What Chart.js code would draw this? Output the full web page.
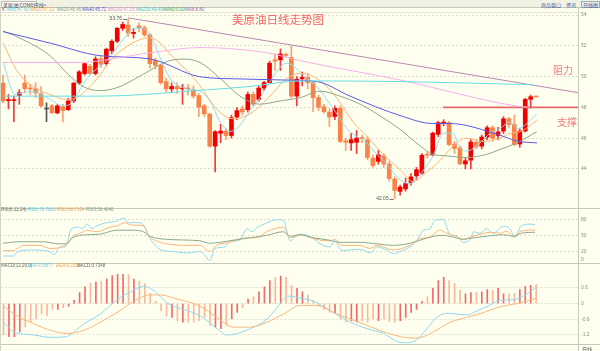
<!DOCTYPE html>
<html><head><meta charset="utf-8"><title>美原油日线走势图</title>
<script src="https://cdn.jsdelivr.net/npm/chart.js@4.4.1/dist/chart.umd.min.js"></script>
<style>
html,body{margin:0;padding:0;background:#fffff0;}
#wrap{position:relative;width:600px;height:351px;overflow:hidden;background:#fffff0;font-family:"Liberation Sans","DejaVu Sans",sans-serif;}
#wrap canvas{position:absolute;left:0;}
.t{position:absolute;white-space:nowrap;line-height:1;}
.cn{font-family:"Noto Sans CJK SC",sans-serif;}
.ln{position:absolute;background:#c9c9b9;}
.hd{font-size:4.5px;top:8px;}
</style></head><body>
<div id="wrap">
<div class="ln" style="left:0;top:0;width:600px;height:7px;background:#f1f1e4;"></div>
<div class="ln" style="left:0;top:7px;width:600px;height:1px;"></div>
<div class="ln" style="left:0;top:12px;width:578px;height:1px;background:#e4e4d6;"></div>
<div class="t cn" style="left:1px;top:1px;font-size:5px;color:#333;border:1px solid #bbb;border-bottom:none;background:#fff;padding:0 1px;">美原油(CONC)</div>
<div class="t cn" style="left:31px;top:1.5px;font-size:5px;color:#555;">&lt;日线&gt;</div>
<div class="t cn" style="left:541px;top:1.5px;font-size:5px;color:#3a5a9a;">商品盘口</div>
<div class="t cn" style="left:566px;top:1.5px;font-size:5px;color:#3a5a9a;">资讯</div>
<div class="t cn" style="left:581px;top:0.5px;font-size:5px;color:#3a5a9a;border:1px solid #9ab;padding:0 1px;">日线图</div>

<div class="t hd" style="left:2px;color:#666;">K</div>
<div class="t hd" style="left:7px;color:#5cc6e6;">MA5:47.60</div>
<div class="t hd" style="left:30px;color:#f0a050;">MA10:47.13</div>
<div class="t hd" style="left:57px;color:#7f977f;">MA20:46.45</div>
<div class="t hd" style="left:82px;color:#4a4ad2;">MA40:45.71</div>
<div class="t hd" style="left:108px;color:#e27fd2;">MA100:47.05</div>
<div class="t hd" style="left:136px;color:#3fbcc6;">MA230:49.40</div>
<div class="t hd" style="left:163px;color:#3c9c3c;">MA60:0.00</div>
<div class="t hd" style="left:185px;color:#a0609a;">MA8:8.80</div>

<canvas id="cMain" width="600" height="202" style="top:8px;width:600px;height:202px;"></canvas>
<canvas id="cRsi" width="600" height="62" style="top:205px;width:600px;height:62px;"></canvas>
<canvas id="cMacd" width="600" height="89" style="top:262px;width:600px;height:89px;"></canvas>

<div class="ln" style="left:0;top:208px;width:600px;height:1px;"></div>
<div class="ln" style="left:0;top:263px;width:600px;height:1px;"></div>
<div class="ln" style="left:0;top:344px;width:600px;height:1px;"></div>
<div class="ln" style="left:578px;top:8px;width:1px;height:343px;"></div>
<div class="ln" style="left:0;top:8px;width:1px;height:343px;background:#d4d4c4;"></div>

<div class="t" style="left:1px;top:208px;font-size:4.5px;color:#666;">RSI(6,12,24)</div>
<div class="t" style="left:28px;top:208px;font-size:4.5px;color:#5cc6e6;">RSI1:70.7610</div>
<div class="t" style="left:57px;top:208px;font-size:4.5px;color:#f0a050;">RSI2:60.7134</div>
<div class="t" style="left:86px;top:208px;font-size:4.5px;color:#7f977f;">RSI3:56.4046</div>
<div class="t" style="left:581px;top:256.5px;font-size:5px;color:#8c8c82;">0</div>

<div class="t" style="left:1px;top:264px;font-size:4.5px;color:#666;">MACD(12,26,9)</div>
<div class="t" style="left:28px;top:264px;font-size:4.5px;color:#5cc6e6;">DIFF:0.5877</div>
<div class="t" style="left:56px;top:264px;font-size:4.5px;color:#f0a050;">DEA:0.2303</div>
<div class="t" style="left:77px;top:264px;font-size:4.5px;color:#666;">MACD:0.7348</div>
<div class="t cn" style="left:582px;top:345.5px;font-size:5px;color:#555;">日线</div>

<div class="t cn" style="left:232px;top:14px;font-size:11.5px;color:#f46464;">美原油日线走势图</div>
<div class="t cn" style="left:553px;top:65px;font-size:10px;color:#f07c7c;">阻力</div>
<div class="t cn" style="left:557px;top:117px;font-size:10px;color:#f07c7c;">支撑</div>
</div>
<script>
// ---------- data (daily candles, index 1..99) ----------
const opens=[49.58,48.44,48.44,48.77,49.58,49.24,49.22,48.90,47.89,48.10,
47.64,48.05,47.85,48.42,49.58,50.20,50.67,50.20,51.15,50.84,
51.67,52.30,53.14,53.36,52.80,53.30,53.18,52.72,51.04,50.73,
49.68,49.20,49.36,49.20,49.24,49.15,48.77,48.10,47.58,45.48,
46.32,46.46,46.17,47.37,47.90,47.85,48.84,48.52,49.26,49.61,
51.09,51.09,51.45,51.25,48.73,49.87,49.95,49.61,48.63,48.04,
47.69,47.41,47.94,45.83,45.69,45.73,46.02,45.90,44.70,44.49,
44.85,44.32,43.34,42.54,42.70,43.10,43.55,43.73,44.95,44.91,
46.25,46.98,47.01,45.62,45.37,44.32,44.57,45.73,45.48,46.07,
46.68,46.17,46.46,47.26,46.88,45.62,46.46,48.52,48.72];
const closes=[48.42,48.48,48.48,48.95,49.22,49.20,48.95,48.10,47.89,47.64,
48.10,47.80,48.42,49.58,50.31,50.84,50.20,51.15,50.80,51.78,
52.30,53.14,53.39,52.83,52.88,53.18,52.72,50.84,50.73,49.61,
49.20,49.36,49.20,49.24,49.20,48.73,48.02,47.58,45.48,46.42,
46.46,46.17,47.33,47.79,47.70,48.84,48.21,49.26,49.61,50.87,
51.00,51.47,51.38,48.73,49.83,49.95,49.61,48.63,48.00,47.72,
47.37,47.94,45.79,45.73,45.90,46.00,45.98,44.74,44.22,44.91,
44.32,43.37,42.60,42.82,43.05,43.48,43.95,44.89,44.89,46.32,
47.01,47.03,45.58,45.33,44.32,44.53,45.75,45.44,46.07,46.68,
46.00,46.40,47.26,46.88,45.58,46.46,48.52,48.69,48.68];
const highs=[50.10,48.84,48.73,49.15,50.10,49.50,49.60,49.36,48.30,48.20,
48.20,48.20,48.60,49.62,50.40,50.90,50.80,51.30,51.30,51.85,
52.40,53.20,53.55,53.76,53.10,53.50,53.30,52.80,51.20,50.80,
49.90,49.60,49.60,49.50,49.50,49.40,48.90,48.20,47.60,46.50,
46.90,46.60,47.50,48.00,48.10,49.00,49.00,49.40,49.70,51.00,
51.50,51.80,51.55,52.00,50.00,50.30,50.20,49.70,48.80,48.20,
47.90,48.10,48.10,46.00,46.30,46.50,46.20,46.10,44.90,45.20,
45.00,44.50,43.50,42.95,43.40,43.70,44.10,45.00,45.10,46.40,
47.10,47.20,47.10,45.80,45.50,44.70,45.90,45.90,46.20,46.80,
46.80,46.70,47.40,47.35,47.50,46.60,48.60,48.80,48.72];
const lows=[48.30,47.90,47.07,48.20,48.95,48.85,48.65,48.00,47.07,47.60,
47.58,47.06,47.80,48.30,49.50,50.10,50.10,50.10,50.60,50.70,
51.50,52.20,53.00,52.60,52.50,52.90,52.60,50.55,50.50,49.50,
49.00,49.00,48.90,48.20,48.80,48.60,47.40,47.40,45.40,43.80,
45.70,45.90,46.00,47.20,47.50,47.70,48.10,48.40,49.10,49.55,
50.40,50.40,51.30,48.60,48.10,49.40,49.20,47.72,47.80,47.60,
46.74,47.20,45.70,45.20,45.20,45.00,45.70,44.60,44.10,44.30,
44.10,43.20,42.05,42.30,42.55,42.95,43.30,43.65,44.70,44.85,
46.10,46.80,45.50,45.00,44.30,44.00,44.00,45.30,45.30,45.90,
45.80,45.90,46.30,46.70,45.50,45.40,46.40,47.95,48.66];

// moving averages: [candle index, price]
const ma5=[[1,50.94],[3.21,48.84],[4.13,48.9],[6.52,49.05],[9.64,48.52],[12.03,48.1],[13.32,48.21],[15.16,49.15],[16.44,49.89],[18.28,50.52],[20.12,51.04],[21.96,51.88],[23.8,52.73],[24.9,53.14],[26.74,53.14],[28.03,52.73],[29.87,51.25],[31.7,49.89],[33.54,49.36],[35.38,49.15],[37.22,49.05],[39.06,48.42],[40.9,47.07],[42.74,46.44],[44.57,46.84],[46.41,47.79],[48.25,48.63],[50.09,49.68],[51.93,50.62],[53.16,50.87],[55.0,50.52],[56.84,49.89],[58.68,49.36],[60.51,48.52],[62.35,47.58],[64.19,46.63],[66.03,46.11],[67.87,45.69],[69.71,44.95],[71.55,44.32],[73.99,43.29],[75.83,43.06],[77.06,43.37],[78.9,44.22],[80.06,44.85],[81.9,46.32],[83.74,46.32],[84.66,45.58],[85.94,45.16],[87.17,45.27],[88.7,45.69],[90.54,46.32],[92.38,46.63],[94.22,47.05],[95.69,46.63],[97.29,46.95],[99.12,47.58]];
const ma10=[[1,52.2],[3.52,50.41],[6.52,49.36],[9.64,48.84],[12.71,48.52],[14.55,48.63],[17.0,49.36],[18.83,50.1],[20.67,51.04],[23.06,51.78],[26.19,52.41],[28.03,52.51],[29.87,52.2],[32.26,51.25],[34.77,50.41],[37.22,49.4],[40.29,47.89],[43.29,47.26],[45.13,47.37],[47.64,47.89],[50.64,48.95],[53.16,49.89],[55.61,50.21],[57.44,50.1],[60.51,49.36],[62.96,48.32],[65.35,47.05],[67.87,46.13],[70.87,44.95],[73.99,43.95],[76.38,43.17],[78.9,43.8],[81.35,44.55],[83.18,45.3],[86.25,46.0],[89.25,45.79],[92.38,46.0],[94.22,46.32],[96.06,46.42],[99.12,47.16]];
const ma20=[[1,52.95],[4.13,52.5],[9.64,51.36],[12.77,50.22],[15.71,49.36],[18.83,49.09],[21.96,49.28],[24.9,49.78],[28.03,50.41],[31.1,50.98],[34.09,51.14],[37.22,50.92],[40.9,49.89],[44.57,48.73],[48.25,48.21],[51.93,48.42],[55.61,48.63],[59.28,49.05],[62.96,48.73],[66.64,48.21],[70.31,47.45],[73.99,46.57],[77.67,45.5],[80.06,44.95],[82.58,44.85],[86.25,44.74],[89.93,44.95],[92.38,45.27],[95.45,45.69],[99.12,46.42]];
const ma40=[[1,52.93],[9.64,52.18],[18.83,51.36],[28.03,51.15],[37.22,49.99],[44.57,49.85],[52.48,49.78],[58.68,49.68],[64.8,48.73],[73.99,47.47],[80.06,46.95],[83.18,46.95],[92.38,46.19],[95.51,45.81],[99.18,45.69]];
const ma100=[[1,50.92],[14.6,50.92],[28.03,51.55],[37.22,51.89],[49.5,51.55],[55.61,51.04],[73.99,49.78],[95.51,48.08],[97.35,48.02]];
const ma230=[[1,48.73],[18.83,48.73],[37.22,49.11],[46.41,49.36],[55.61,49.72],[73.99,49.68],[98.45,49.47]];
const trendLine=[[24.0,53.82],[106.7,48.96]];
const supportLine=[[81.9,48.0],[106.7,48.0]];

// RSI lines: [candle index, value]
const rsi1=[[1,12.4],[2.9,12.4],[3.8,20.8],[6.6,23.6],[9.6,20.8],[10.4,15.2],[11.5,29.2],[12.4,29.2],[13.6,62.9],[14.9,65.7],[15.6,62.9],[16.5,71.3],[17.3,62.9],[18.3,68.5],[20.1,74.1],[21.9,76.9],[23.2,82.5],[24.0,74.1],[25.9,74.1],[27.1,65.7],[27.8,48.9],[28.8,34.9],[30.0,23.6],[32.3,20.8],[34.8,18.0],[37.2,20.8],[38.0,15.2],[39.0,4.0],[40.0,26.4],[41.8,29.2],[42.7,40.5],[44.3,40.5],[45.9,62.9],[46.8,57.3],[47.8,65.7],[49.0,71.3],[50.2,76.9],[51.4,79.7],[52.5,78.6],[53.8,40.5],[54.5,46.1],[55.6,52.8],[57.4,48.9],[59.3,34.9],[61.1,29.2],[62.0,40.5],[63.3,22.5],[64.8,23.6],[66.6,24.8],[68.5,18.0],[69.7,29.2],[71.5,23.6],[72.8,16.9],[74.0,20.8],[75.8,29.2],[77.0,40.5],[78.3,60.1],[79.5,62.9],[80.4,78.6],[81.9,79.7],[83.2,51.7],[84.4,48.9],[85.6,37.7],[86.9,43.3],[87.5,57.3],[88.7,54.5],[89.9,62.9],[91.1,54.5],[93.0,67.4],[94.2,62.9],[95.1,46.1],[96.3,68.5],[97.9,71.3],[98.8,70.8]];
const rsi2=[[1,22.5],[2.9,22.5],[4.7,32.1],[7.8,32.1],[9.6,26.4],[11.8,29.2],[12.7,34.9],[13.8,48.9],[15.2,54.5],[16.5,60.1],[18.2,57.3],[20.7,65.7],[22.0,68.5],[23.4,74.1],[24.6,69.6],[26.8,68.5],[27.8,48.9],[29.2,40.5],[31.1,34.9],[34.8,32.1],[37.2,32.1],[39.0,20.8],[40.3,32.1],[42.7,37.7],[45.8,46.1],[47.6,46.1],[49.5,57.3],[52.5,65.7],[53.8,46.1],[55.6,51.7],[57.4,47.2],[59.3,41.6],[61.1,40.5],[62.0,43.3],[63.3,32.1],[66.6,32.1],[68.5,26.4],[69.7,32.1],[72.8,23.6],[75.8,32.1],[77.7,45.0],[79.5,47.2],[81.3,60.1],[82.6,54.5],[84.4,48.9],[85.6,43.3],[86.9,47.2],[88.7,52.8],[90.5,56.2],[92.4,54.5],[93.6,58.4],[94.8,48.9],[96.3,58.4],[98.8,60.7]];
const rsi3=[[1,36.0],[4.1,38.8],[8.4,38.8],[11.2,34.9],[12.7,34.9],[13.8,46.1],[16.4,51.7],[18.8,52.8],[21.9,60.1],[25.0,60.1],[26.8,57.3],[28.0,48.9],[31.1,43.3],[37.2,40.5],[39.0,36.0],[40.9,37.7],[43.3,41.6],[46.4,46.1],[49.5,50.6],[52.5,57.3],[53.8,48.9],[55.6,51.7],[58.0,46.1],[61.1,41.6],[63.0,37.7],[66.6,37.7],[69.7,34.9],[72.8,32.1],[75.8,36.0],[77.7,41.6],[80.1,48.9],[81.9,50.6],[83.8,47.2],[85.6,43.3],[87.5,46.1],[89.9,48.9],[93.0,51.7],[94.8,48.9],[96.3,54.5],[98.8,56.4]];

// MACD
const macdHist=[-1.20,-1.26,-1.26,-1.08,-0.89,-0.71,-0.59,-0.40,-0.47,-0.22,
-0.22,-0.16,-0.10,0.12,0.42,0.64,0.78,0.82,0.85,0.94,
1.07,1.12,1.12,1.10,0.94,0.86,0.76,0.39,0.09,-0.28,
-0.47,-0.53,-0.65,-0.71,-0.71,-0.71,-0.65,-0.53,-0.83,-0.89,
-0.96,-0.83,-0.59,-0.34,-0.16,0.17,0.27,0.45,0.64,0.88,
1.00,1.05,1.00,0.70,0.58,0.45,0.33,0.12,-0.10,-0.22,
-0.34,-0.36,-0.59,-0.71,-0.65,-0.71,-0.65,-0.71,-0.59,-0.65,
-0.59,-0.69,-0.71,-0.65,-0.53,-0.34,-0.22,0.09,0.27,0.58,
0.88,1.00,0.88,0.76,0.51,0.37,0.42,0.42,0.45,0.54,
0.51,0.58,0.37,0.37,0.39,0.54,0.66,0.70,0.73];
const diffLine=[[1,-0.71],[2.9,-1.08],[6.6,-1.20],[9.6,-1.29],[12.4,-1.27],[15.8,-0.77],[18.8,-0.40],[21.9,0.15],[25,0.51],[26.8,0.66],[28,0.58],[29.9,0.27],[31.1,0.02],[34.1,-0.22],[37.2,-0.47],[40.3,-0.96],[42.1,-1.20],[43.3,-1.18],[46.4,-0.96],[49.5,-0.59],[52.5,0.15],[53.2,0.29],[55.6,0.21],[58.05,0.09],[61.7,-0.34],[64.8,-0.71],[67.9,-0.96],[70.9,-1.14],[73.4,-1.45],[75.2,-1.50],[77,-1.38],[78.9,-0.96],[80.7,-0.53],[82.6,-0.37],[84.4,-0.40],[86.2,-0.44],[88.1,-0.28],[89.9,-0.12],[92.4,0.12],[94.8,0.15],[96,0.21],[97.9,0.45],[98.8,0.59]];
const deaLine=[[1,-0.10],[3.5,-0.47],[6.6,-0.77],[9.6,-1.02],[12.7,-1.14],[15.8,-1.02],[18.8,-0.71],[21.9,-0.34],[25,0.09],[28,0.33],[29.9,0.33],[32.3,0.21],[37.2,-0.10],[40.3,-0.53],[43.3,-0.90],[46.4,-0.90],[49.5,-0.71],[52.5,-0.40],[55.6,-0.07],[58.7,-0.07],[61.7,-0.34],[64.8,-0.59],[67.9,-0.83],[70.9,-1.08],[74,-1.26],[76.4,-1.32],[78.3,-1.26],[80.1,-1.08],[83.2,-0.71],[86.2,-0.53],[89.3,-0.34],[92.4,-0.12],[95.4,0.0],[97.3,0.09],[98.8,0.21]];

const priceTicks=[44,46,48,50,52,54];
const rsiTicks=[20,50,80];
const macdTicks=[-1.2,-0.6,0,0.6];
const monthStart=[1,17,36,59,81];
const monthLabels=['2017/03','04','05','06','07'];

// ---------- drawing ----------
const X_MIN=0.45, X_MAX=106.7;
const GRID='#deded0';
Chart.defaults.font.family='"Liberation Sans", sans-serif';

function hiddenX(){return {type:'linear',min:X_MIN,max:X_MAX,display:false,offset:false,grid:{display:false}};}
function rightY(min,max,ticks){
  return {type:'linear',position:'right',min:min,max:max,
    afterFit(s){s.width=22;},
    afterBuildTicks(s){s.ticks=ticks.map(v=>({value:v}));},
    grid:{drawTicks:false,color:GRID,lineWidth:1},
    border:{display:false,dash:[2,2]},
    ticks:{padding:3,color:'#8c8c82',font:{size:5},callback:v=>String(v)}};
}
const idx=opens.map((_,i)=>i);
const isFlat=i=>closes[i]===opens[i];
const isUp=i=>closes[i]>opens[i];
const bodyColor=i=>isFlat(i)?'#555':(isUp(i)?'#f20000':'#fa8246');
const wickColor=i=>isFlat(i)?'#555':(isUp(i)?'#f43a3a':'#f8a273');
function lineDs(pts,color,w){
  return {type:'line',data:pts.map(p=>({x:p[0],y:p[1]})),borderColor:color,borderWidth:w||1,
    pointRadius:0,cubicInterpolationMode:'monotone',fill:false,order:1};
}
const baseOpts=(pad)=>({responsive:false,animation:false,events:[],devicePixelRatio:1,
  layout:{padding:pad},plugins:{legend:{display:false},tooltip:{enabled:false}}});

const extremeLabels={id:'extremeLabels',afterDatasetsDraw(chart){
  const ctx=chart.ctx, xs=chart.scales.x, ys=chart.scales.y;
  const hi=Math.max(...highs), hiI=highs.indexOf(hi);
  const lo=Math.min(...lows), loI=lows.indexOf(lo);
  ctx.save();
  ctx.font='5px "Liberation Sans"'; ctx.fillStyle='#555'; ctx.strokeStyle='#777'; ctx.lineWidth=1;
  ctx.textAlign='right'; ctx.textBaseline='middle';
  [[hiI,hi],[loI,lo]].forEach(([i,v])=>{
    const px=xs.getPixelForValue(i+1), py=ys.getPixelForValue(v);
    ctx.fillText(v.toFixed(2),px-6,py);
    ctx.beginPath(); ctx.moveTo(px-5,Math.round(py)+0.5); ctx.lineTo(px-1,Math.round(py)+0.5); ctx.stroke();
  });
  ctx.restore();
}};

// main price panel
const mainOpts=baseOpts({top:4,bottom:2,left:0,right:0});
mainOpts.scales={x:hiddenX(),y:rightY(41.72,54.07,priceTicks)};
new Chart(document.getElementById('cMain'),{
  type:'bar',
  data:{datasets:[
    {type:'bar',data:idx.map(i=>({x:i+1,y:[lows[i],highs[i]]})),barThickness:1,grouped:false,
      backgroundColor:idx.map(wickColor),order:3},
    {type:'bar',data:idx.map(i=>({x:i+1,y:[opens[i],closes[i]]})),barThickness:4,minBarLength:1,grouped:false,
      backgroundColor:idx.map(bodyColor),order:2},
    lineDs(ma230,'#66dde8'),
    lineDs(ma100,'#f5b0ea'),
    lineDs(ma40,'#5a5ae6'),
    lineDs(ma20,'#8ea88a'),
    lineDs(ma10,'#f9b67a'),
    lineDs(ma5,'#8fdcef'),
    lineDs(trendLine,'#b889b0'),
    lineDs(supportLine,'#e86a6a',1.6)
  ]},
  options:mainOpts,
  plugins:[extremeLabels]
});

// RSI panel
const rsiOpts=baseOpts({top:4,bottom:3,left:0,right:0});
rsiOpts.scales={x:hiddenX(),y:rightY(3.2,95.6,rsiTicks)};
new Chart(document.getElementById('cRsi'),{
  type:'line',
  data:{datasets:[lineDs(rsi3,'#8ea88a'),lineDs(rsi2,'#f9b67a'),lineDs(rsi1,'#8fd8ef')]},
  options:rsiOpts
});

// MACD panel
const macdOpts=baseOpts({top:3,bottom:0,left:0,right:0});
macdOpts.scales={
  x:{type:'linear',min:X_MIN,max:X_MAX,offset:false,position:'bottom',
    afterFit(s){s.height=7;},
    afterBuildTicks(s){s.ticks=monthStart.map(v=>({value:v-0.46}));},
    grid:{display:false},border:{display:false},
    ticks:{autoSkip:false,maxRotation:0,minRotation:0,align:'start',padding:1,color:'#777',
      font:{size:5},callback:(v,i)=>monthLabels[i]}},
  y:rightY(-1.544,1.36,macdTicks)
};
new Chart(document.getElementById('cMacd'),{
  type:'bar',
  data:{datasets:[
    {type:'bar',data:idx.map(i=>({x:i+1,y:macdHist[i]})),barThickness:1,grouped:false,
      backgroundColor:idx.map(i=>isUp(i)?'#f06a6a':'#f9b99a'),order:2},
    lineDs(deaLine,'#f9b67a'),
    lineDs(diffLine,'#8fd8ef')
  ]},
  options:macdOpts
});
</script>
</body></html>
